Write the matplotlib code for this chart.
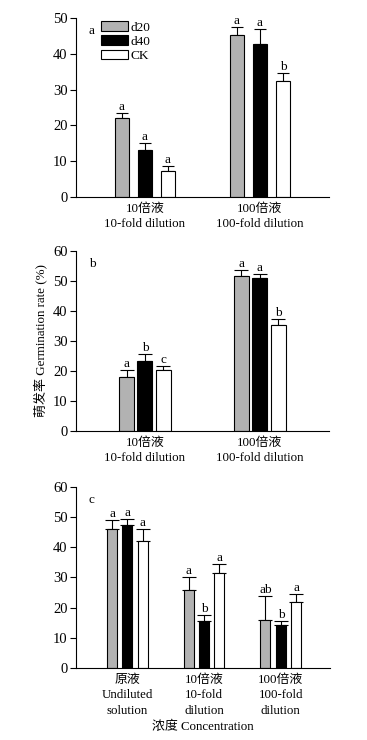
import numpy as np
import matplotlib
matplotlib.use("Agg")
import matplotlib.pyplot as plt

plt.rcParams['font.family'] = ['Liberation Serif', 'Noto Sans CJK SC']
plt.rcParams['font.size'] = 9.3

series = ['d20', 'd40', 'CK']
colors = ['#b2b2b2', '#000000', '#ffffff']

# panel a
groups_a = ['10倍液\n10-fold dilution', '100倍液\n100-fold dilution']
mean_a = {'d20': [22.0, 45.2], 'd40': [13.2, 42.8], 'CK': [7.3, 32.5]}
err_a = {'d20': [1.5, 2.3], 'd40': [1.8, 4.0], 'CK': [1.3, 2.0]}
let_a = {'d20': ['a', 'a'], 'd40': ['a', 'a'], 'CK': ['a', 'b']}

# panel b
groups_b = ['10倍液\n10-fold dilution', '100倍液\n100-fold dilution']
mean_b = {'d20': [18.0, 51.8], 'd40': [23.3, 51.1], 'CK': [20.2, 35.4]}
err_b = {'d20': [2.3, 1.9], 'd40': [2.5, 1.3], 'CK': [1.3, 2.0]}
let_b = {'d20': ['a', 'a'], 'd40': ['b', 'a'], 'CK': ['c', 'b']}

# panel c
groups_c = ['原液\nUndiluted\nsolution', '10倍液\n10-fold\ndilution', '100倍液\n100-fold\ndilution']
mean_c = {'d20': [46.0, 26.0, 15.8], 'd40': [47.5, 15.5, 14.3], 'CK': [42.0, 31.5, 21.9]}
err_c = {'d20': [3.0, 4.0, 8.0], 'd40': [2.0, 2.0, 1.4], 'CK': [4.2, 3.0, 2.5]}
let_c = {'d20': ['a', 'a', 'ab'], 'd40': ['a', 'b', 'b'], 'CK': ['a', 'a', 'a']}


def panel(ax, groups, mean, err, letters, step, width, ymax, xlim, tag):
    x = np.arange(len(groups))
    for i, s in enumerate(series):
        xs = x + (i - 1) * step
        ax.bar(xs, mean[s], width, color=colors[i], edgecolor='black',
               linewidth=0.8, label=s, zorder=2)
        ax.errorbar(xs, mean[s], yerr=[np.zeros(len(x)), err[s]], fmt='none',
                    ecolor='black', elinewidth=0.8, capsize=width * 38,
                    capthick=0.8, zorder=1)
        for xi, m, e, l in zip(xs, mean[s], err[s], letters[s]):
            ax.text(xi, m + e, l, ha='center', va='bottom', fontsize=9.5)
    ax.set_xlim(*xlim)
    ax.set_ylim(0, ymax)
    ax.set_yticks(np.arange(0, ymax + 1, 10))
    ax.set_xticks(x)
    ax.set_xticklabels(groups, linespacing=1.4, fontsize=9.3)
    ax.tick_params(axis='x', length=0, pad=4)
    ax.tick_params(axis='y', direction='out', length=4, width=0.8, pad=2,
                   labelsize=10.5)
    for sp in ['top', 'right']:
        ax.spines[sp].set_visible(False)
    for sp in ['left', 'bottom']:
        ax.spines[sp].set_linewidth(0.8)
    ax.text(0.05, 0.93, tag, transform=ax.transAxes, fontsize=9.5, va='center')


fig = plt.figure(figsize=(3.67, 7.4), dpi=100)
ax1 = fig.add_axes([0.207, 0.7338, 0.689, 0.2419])
ax2 = fig.add_axes([0.207, 0.4176, 0.689, 0.2432])
ax3 = fig.add_axes([0.207, 0.0973, 0.692, 0.2446])

panel(ax1, groups_a, mean_a, err_a, let_a, 0.2, 0.12, 50, (-0.6, 1.6), 'a')
panel(ax2, groups_b, mean_b, err_b, let_b, 0.16, 0.13, 60, (-0.6, 1.6), 'b')
panel(ax3, groups_c, mean_c, err_c, let_c, 0.2, 0.13, 60, (-0.67, 2.64), 'c')

ax1.legend(loc='upper left', bbox_to_anchor=(0.08, 1.01), frameon=False,
           handlelength=2.0, handleheight=0.75, handletextpad=0.2,
           labelspacing=0.12, borderaxespad=0, fontsize=9.5)

ax2.set_ylabel('萌发率 Germination rate (%)', labelpad=4, fontsize=9.4)
ax3.set_xlabel('浓度 Concentration', labelpad=3, fontsize=9.3)

fig.savefig('out.png', dpi=100)
